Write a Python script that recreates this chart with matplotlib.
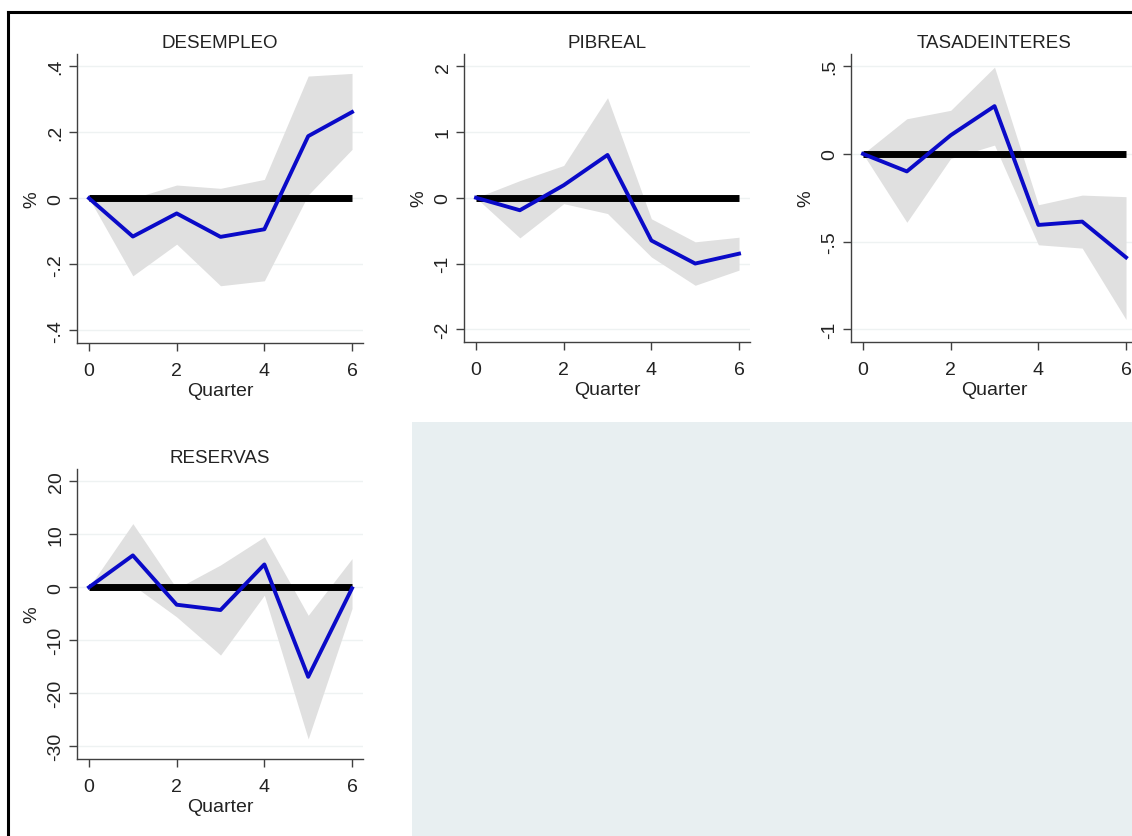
import matplotlib
matplotlib.use('Agg')
import matplotlib.pyplot as plt
from matplotlib.patches import Rectangle
from matplotlib.lines import Line2D
import numpy as np

plt.rcParams['font.family'] = ['Liberation Sans', 'DejaVu Sans']

quarters = [0, 1, 2, 3, 4, 5, 6]

# impulse responses (point estimate, upper and lower band)
desempleo = [0.0, -0.116, -0.046, -0.117, -0.094, 0.188, 0.261]
desempleo_hi = [0.0, 0.0, 0.040, 0.030, 0.057, 0.370, 0.378]
desempleo_lo = [0.0, -0.235, -0.139, -0.265, -0.250, 0.010, 0.148]

pibreal = [0.0, -0.19, 0.19, 0.65, -0.65, -1.0, -0.85]
pibreal_hi = [0.0, 0.26, 0.49, 1.52, -0.32, -0.67, -0.60]
pibreal_lo = [0.0, -0.61, -0.09, -0.24, -0.90, -1.33, -1.10]

tasa = [0.0, -0.10, 0.106, 0.272, -0.405, -0.386, -0.59]
tasa_hi = [0.0, 0.20, 0.248, 0.494, -0.29, -0.235, -0.244]
tasa_lo = [0.0, -0.39, -0.026, 0.05, -0.518, -0.537, -0.944]

reservas = [0.0, 6.0, -3.3, -4.3, 4.3, -16.9, -0.2]
reservas_hi = [0.0, 12.0, -0.25, 4.2, 9.5, -5.3, 5.4]
reservas_lo = [0.0, 0.4, -5.6, -12.8, -1.5, -28.6, -4.0]

titles = ['DESEMPLEO', 'PIBREAL', 'TASADEINTERES', 'RESERVAS']
yticks = [[-0.4, -0.2, 0, 0.2, 0.4], [-2, -1, 0, 1, 2], [-1, -0.5, 0, 0.5], [-30, -20, -10, 0, 10, 20]]
ylabels = [['-.4', '-.2', '0', '.2', '.4'], ['-2', '-1', '0', '1', '2'], ['-1', '-.5', '0', '.5'],
           ['-30', '-20', '-10', '0', '10', '20']]
series = [(desempleo, desempleo_hi, desempleo_lo), (pibreal, pibreal_hi, pibreal_lo),
          (tasa, tasa_hi, tasa_lo), (reservas, reservas_hi, reservas_lo)]

W, H = 1132, 837
fig = plt.figure(figsize=(W / 100, H / 100), dpi=100)
fig.patch.set_facecolor('white')

# empty cell of the graph combine
fig.patches.append(Rectangle((412 / W, 0), 1 - 412 / W, 1 - 423 / H, transform=fig.transFigure,
                             facecolor='#e8eff1', edgecolor='none', zorder=0))
# frame lines of the screenshot
fig.add_artist(Line2D([8 / W, 1], [1 - 13 / H, 1 - 13 / H], transform=fig.transFigure, color='black', lw=2.2))
fig.add_artist(Line2D([8 / W, 8 / W], [0, 1 - 13 / H], transform=fig.transFigure, color='black', lw=2.2))

# (left, top, right, bottom) in pixels
boxes = [(77, 55, 363, 344), (464, 55, 750, 343), (851, 55, 1137, 343), (77, 470, 363, 760)]

for i, (left, top, right, bottom) in enumerate(boxes):
    ax = fig.add_axes([left / W, 1 - bottom / H, (right - left) / W, (bottom - top) / H])
    ax.set_facecolor('none')
    mid, hi, lo = series[i]
    ax.fill_between(quarters, lo, hi, color='#e0e0e0', lw=0, zorder=1)
    ax.plot([0, 6], [0, 0], color='black', lw=5, solid_capstyle='butt', zorder=2)
    ax.plot(quarters, mid, color='#0a0ac8', lw=2.8, zorder=3)

    yt = yticks[i]
    span = yt[-1] - yt[0]
    ax.set_ylim(yt[0] - 0.048 * span, yt[-1] + 0.046 * span)
    ax.set_xlim(-0.274, 6.25)
    ax.set_yticks(yt)
    ax.set_yticklabels(ylabels[i], rotation=90, va='center')
    ax.set_xticks([0, 2, 4, 6])
    for y in yt:
        ax.axhline(y, color='#eef2f2', lw=1, zorder=0)

    for s in ['top', 'right']:
        ax.spines[s].set_visible(False)
    for s in ['left', 'bottom']:
        ax.spines[s].set_color('#404040')
        ax.spines[s].set_linewidth(1.0)
    ax.tick_params(axis='both', direction='out', length=6, width=1, color='#404040',
                   labelsize=14, labelcolor='#222222')
    ax.tick_params(axis='x', pad=8)
    ax.tick_params(axis='y', pad=3)
    ax.set_title(titles[i], fontsize=13.5, color='#222222', pad=5)
    ax.set_xlabel('Quarter', fontsize=14, color='#222222', labelpad=2)
    ax.set_ylabel('%', fontsize=13.5, color='#222222', labelpad=5)

fig.savefig('out.png', dpi=100)
